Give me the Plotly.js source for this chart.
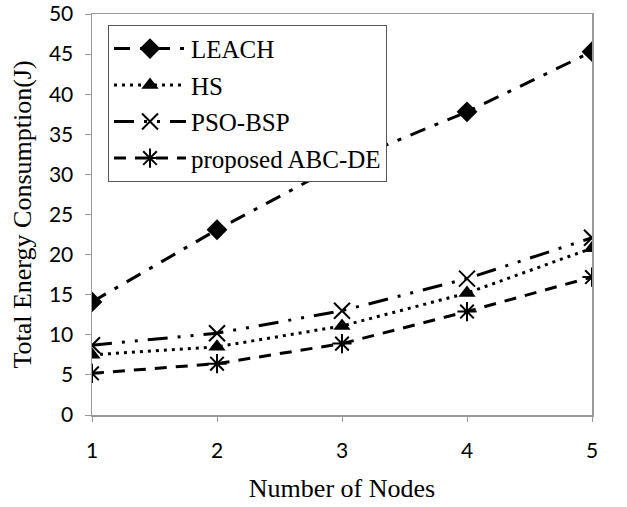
<!DOCTYPE html>
<html><head><meta charset="utf-8">
<script src="https://cdn.plot.ly/plotly-3.0.1.min.js"></script>
<style>body{margin:0;background:#fff}#c{width:627px;height:507px}</style>
</head><body><div id="c"></div>
<script>
const nodes = [1, 2, 3, 4, 5];
const leach = [14.1, 23.1, 31.4, 37.8, 45.3];
const hs = [7.5, 8.5, 11.1, 15.2, 20.8];
const psoBsp = [8.7, 10.2, 13.0, 17.0, 22.1];
const abcDe = [5.2, 6.4, 8.9, 12.9, 17.2];
const names = ['LEACH', 'HS', 'PSO-BSP', 'proposed ABC-DE'];

const traces = [
  {x: nodes, y: leach, name: names[0], legendgroup: 'a', mode: 'lines+markers',
   line: {color: '#000', width: 3, dash: '16px,10px,4px,10px'},
   marker: {symbol: 'diamond', size: 16, color: '#000'}},
  {x: nodes, y: hs, name: names[1], legendgroup: 'b', mode: 'lines+markers',
   line: {color: '#000', width: 3, dash: '3px,5px'},
   marker: {symbol: 'triangle-up', size: 15, color: '#000'}},
  {x: nodes, y: psoBsp, name: names[2], legendgroup: 'c', mode: 'lines+markers',
   line: {color: '#000', width: 3, dash: '20px,10px,3px,10px,3px,10px'},
   marker: {symbol: 'x-thin-open', size: 16, color: '#000', line: {width: 2, color: '#000'}}},
  {x: nodes, y: abcDe, name: names[3], legendgroup: 'd', mode: 'lines+markers',
   line: {color: '#000', width: 3, dash: '12px,9px'},
   marker: {symbol: 'asterisk-open', size: 16, color: '#000', line: {width: 2, color: '#000'}}}
];

const layout = {
  width: 627, height: 507,
  margin: {l: 92, r: 35, t: 14, b: 92},
  paper_bgcolor: '#fff', plot_bgcolor: '#fff',
  showlegend: true,
  legend: {x: 0.032, y: 0.973, xanchor: 'left', yanchor: 'top',
    bgcolor: '#fff', bordercolor: '#555', borderwidth: 1,
    font: {family: 'Liberation Serif', size: 25, color: '#000'},
    tracegroupgap: 1, itemwidth: 72},
  xaxis: {range: [1, 5], tickvals: nodes, ticktext: ['1','2','3','4','5'], automargin: false,
    showgrid: false, zeroline: false, showline: true, linecolor: '#999', linewidth: 1.5,
    mirror: true, ticks: 'outside', ticklen: 5, tickcolor: '#999', ticklabeloverflow: 'allow',
    tickfont: {family: 'Lato', size: 21, color: '#000'}, ticklabelstandoff: 11,
    title: {text: 'Number of Nodes', font: {family: 'Liberation Serif', size: 26, color: '#000'}, standoff: 18}},
  yaxis: {range: [0, 50], dtick: 5, showgrid: false, zeroline: false, showline: true, automargin: false,
    linecolor: '#999', linewidth: 1.5, mirror: true, ticks: 'outside', ticklen: 6, tickcolor: '#999',
    ticklabeloverflow: 'allow',
    tickfont: {family: 'Lato', size: 21, color: '#000'}, ticklabelstandoff: 7,
    title: {text: 'Total Energy Consumption(J)', font: {family: 'Liberation Serif', size: 26, color: '#000'}, standoff: 10}}
};
Plotly.newPlot('c', traces, layout, {displayModeBar: false, staticPlot: true});
</script></body></html>
